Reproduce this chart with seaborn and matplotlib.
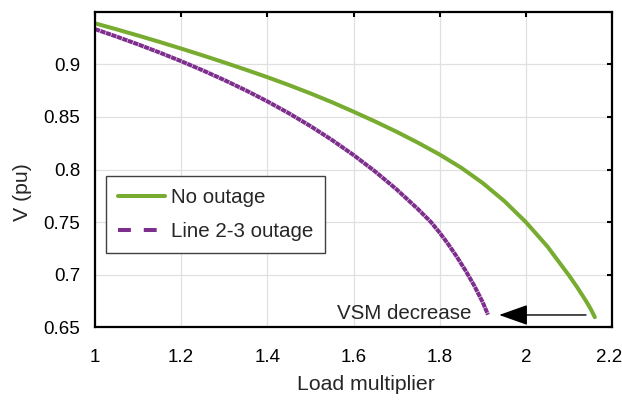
import matplotlib
matplotlib.use("Agg")
import matplotlib.pyplot as plt
import matplotlib.transforms as mtransforms
from matplotlib.lines import Line2D
import seaborn as sns
import pandas as pd

# Load multiplier vs. bus voltage (PV curves)
load_no_outage = [1.0, 1.05, 1.1, 1.15, 1.2, 1.25, 1.3, 1.35, 1.4, 1.45, 1.5,
                  1.55, 1.6, 1.65, 1.7, 1.75, 1.8, 1.85, 1.9, 1.95, 2.0, 2.05,
                  2.1, 2.12, 2.14, 2.15, 2.16]
v_no_outage = [0.939, 0.9333, 0.9274, 0.9213, 0.915, 0.9085, 0.9018, 0.8949,
               0.8878, 0.8803, 0.8724, 0.864, 0.855, 0.8457, 0.8359, 0.8254,
               0.8142, 0.8017, 0.7871, 0.770, 0.750, 0.7268, 0.6993, 0.6875,
               0.6747, 0.6678, 0.6596]

load_outage = [1.0, 1.05, 1.1, 1.15, 1.2, 1.25, 1.3, 1.35, 1.4, 1.45, 1.5, 1.55,
               1.6, 1.65, 1.7, 1.75, 1.78, 1.8, 1.82, 1.84, 1.86, 1.88, 1.9,
               1.912]
v_outage = [0.9335, 0.9264, 0.919, 0.9112, 0.903, 0.8943, 0.8851, 0.8753,
            0.8648, 0.8535, 0.8413, 0.8281, 0.8138, 0.7982, 0.7811, 0.7622,
            0.7499, 0.7399, 0.7289, 0.7169, 0.7039, 0.6897, 0.6737, 0.662]

series_names = ["No outage", "Line 2-3 outage"]
x_ticks = [1.0, 1.2, 1.4, 1.6, 1.8, 2.0, 2.2]
x_tick_labels = ["1", "1.2", "1.4", "1.6", "1.8", "2", "2.2"]
y_ticks = [0.65, 0.70, 0.75, 0.80, 0.85, 0.90]
y_tick_labels = ["0.65", "0.7", "0.75", "0.8", "0.85", "0.9"]

GREEN = "#77AC30"
PURPLE = "#7E2F8E"

sns.set_style("white")
plt.rcParams["font.family"] = ["Liberation Sans", "DejaVu Sans"]

df = pd.concat([
    pd.DataFrame({"load": load_no_outage, "v": v_no_outage, "case": series_names[0]}),
    pd.DataFrame({"load": load_outage, "v": v_outage, "case": series_names[1]}),
])

fig = plt.figure(figsize=(6.22, 4.0), dpi=100)
ax = fig.add_axes([0.1527, 0.1818, 0.8313, 0.7888])

sns.lineplot(data=df[df["case"] == series_names[0]], x="load", y="v",
             color=GREEN, lw=2.9, ax=ax, legend=False, sort=False)
sns.lineplot(data=df[df["case"] == series_names[1]], x="load", y="v",
             color=PURPLE, lw=2.9, ax=ax, legend=False, sort=False,
             linestyle=(0, (1.3, 0.14)))

ax.set_xlim(1.0, 2.2)
ax.set_ylim(0.65, 0.95)
ax.set_xticks(x_ticks)
ax.set_xticklabels(x_tick_labels)
ax.set_yticks(y_ticks)
ax.set_yticklabels(y_tick_labels)

ax.grid(True, color="#e0e0e0", lw=0.9)
ax.set_axisbelow(True)
for s in ax.spines.values():
    s.set_visible(True)
    s.set_color("black")
    s.set_linewidth(1.6)
ax.tick_params(direction="in", length=3.6, width=1.5, top=True, right=True,
               labelsize=13.5, colors="black")
ax.tick_params(axis="y", pad=10.5)
ax.tick_params(axis="x", pad=15.5)

# keep the last x tick label inside the canvas
last = ax.get_xticklabels()[-1]
last.set_transform(last.get_transform() +
                   mtransforms.ScaledTranslation(-3 / 100, 0, fig.dpi_scale_trans))

ax.set_xlabel("Load multiplier", fontsize=15.3)
ax.set_ylabel("V (pu)", fontsize=15.3)
ax.xaxis.set_label_coords(0.524, -0.15)
ax.yaxis.set_label_coords(-0.121, 0.43)

# Arrow showing the shift of the collapse point
ax.annotate("", xy=(1.938, 0.6617), xytext=(2.1395, 0.6617),
            arrowprops=dict(arrowstyle="-|>,head_length=0.9,head_width=0.32",
                            color="black", lw=1.0, shrinkA=0, shrinkB=0,
                            mutation_scale=20))
ax.text(1.8743, 0.6577, "VSM decrease", ha="right", va="baseline",
        fontsize=14.8)

handles = [
    Line2D([], [], color=GREEN, lw=2.9),
    Line2D([], [], color=PURPLE, lw=2.9, linestyle=(0, (3.2, 3.2))),
]
leg = ax.legend(handles, series_names, loc="upper left",
                bbox_to_anchor=(0.0213, 0.479), borderaxespad=0,
                fontsize=14.8, frameon=True, fancybox=False, handlelength=2.3,
                handletextpad=0.27, borderpad=0.58, labelspacing=0.75)
leg.get_frame().set_edgecolor("#404040")
leg.get_frame().set_linewidth(1.0)
leg.get_frame().set_alpha(1)

fig.savefig("out.png", dpi=100)
